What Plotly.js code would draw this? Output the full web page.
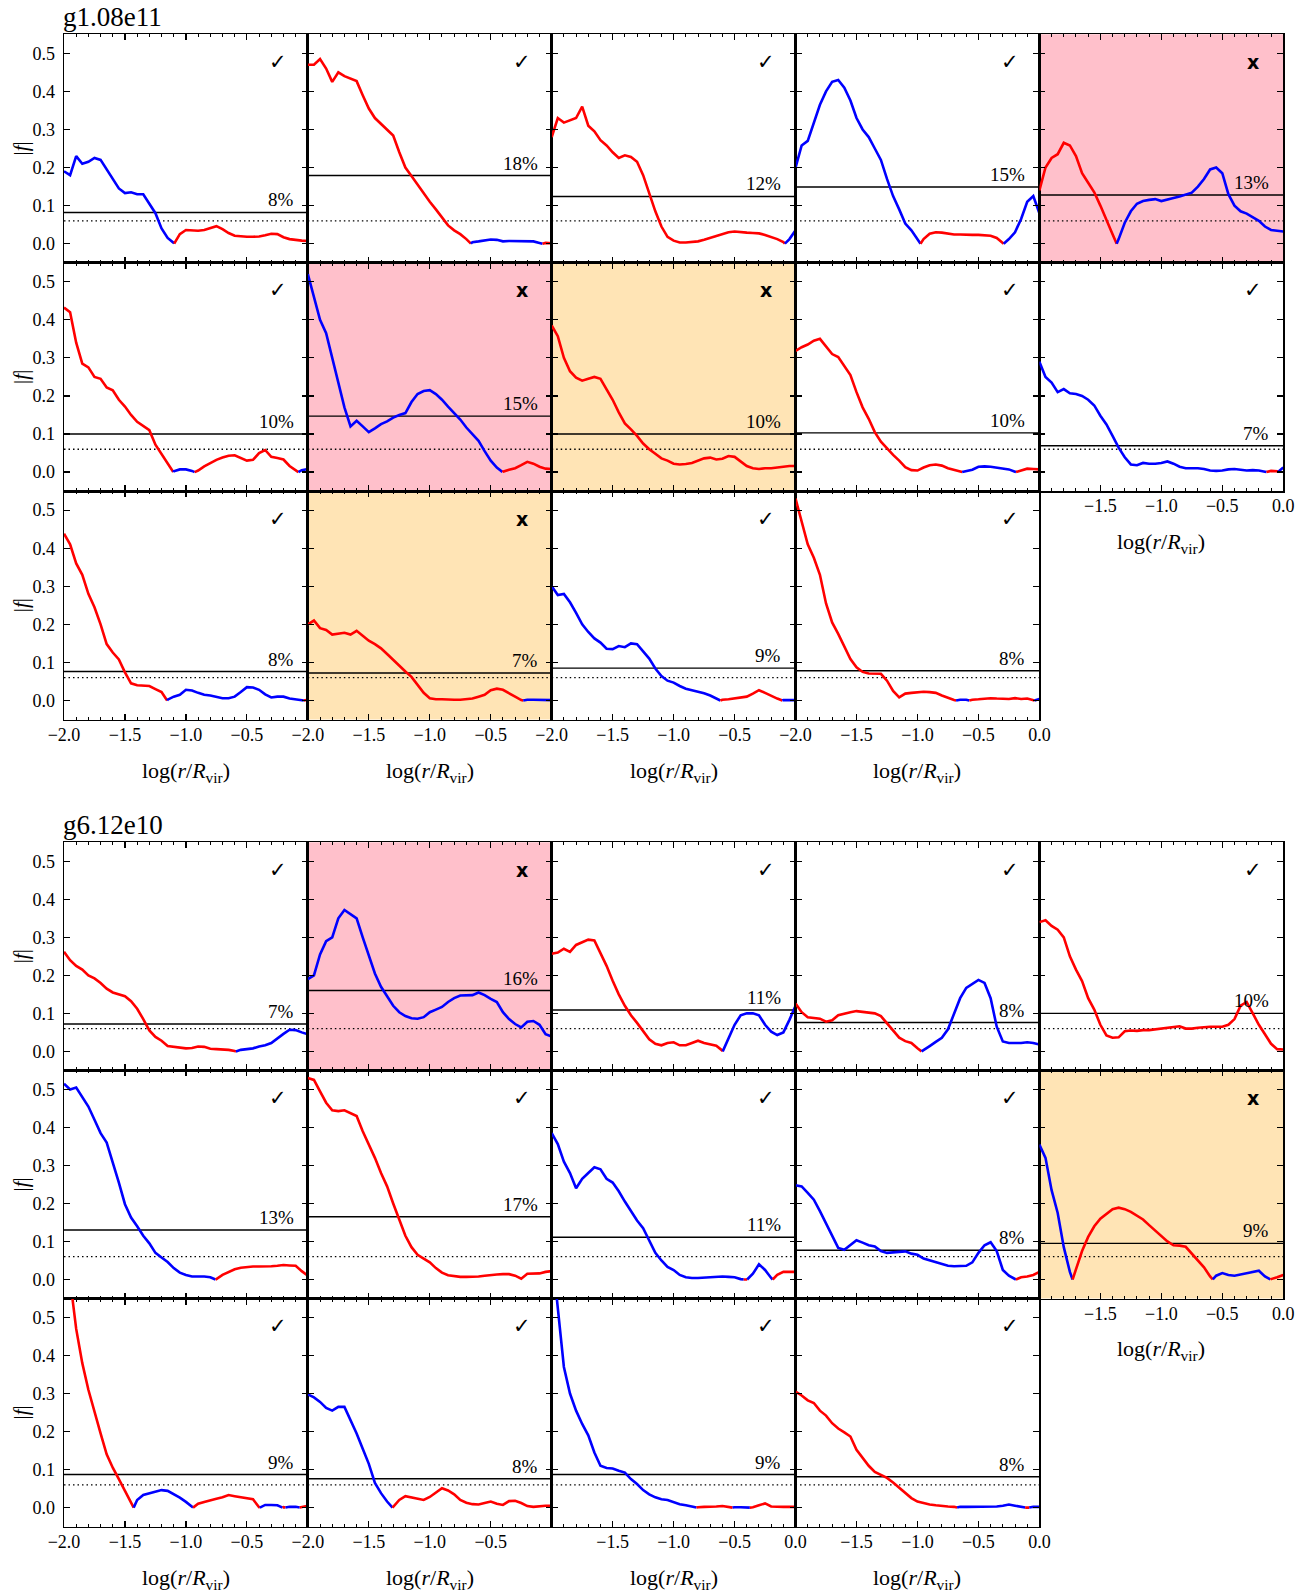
<!DOCTYPE html>
<html><head><meta charset="utf-8">
<script src="https://cdn.plot.ly/plotly-3.0.1.min.js"></script>
<style>html,body{margin:0;padding:0;background:#fff;} #chart{width:1315px;height:1593px;}</style>
</head><body><div id="chart"></div>
<script>
// ---------------- DATA ----------------
const logR = [-2.00,-1.95,-1.90,-1.85,-1.80,-1.75,-1.70,-1.65,-1.60,-1.55,
              -1.50,-1.45,-1.40,-1.35,-1.30,-1.25,-1.20,-1.15,-1.10,-1.05,
              -1.00,-0.95,-0.90,-0.85,-0.80,-0.75,-0.70,-0.65,-0.60,-0.55,
              -0.50,-0.45,-0.40,-0.35,-0.30,-0.25,-0.20,-0.15,-0.10,-0.05,
               0.00];
const xTickVals = [-2.0,-1.5,-1.0,-0.5,0.0];
const xTickText = ['−2.0','−1.5','−1.0','−0.5','0.0'];
const yTickVals = [0.0,0.1,0.2,0.3,0.4,0.5];
const yTickText = ['0.0','0.1','0.2','0.3','0.4','0.5'];
const groupNames = ['g1.08e11','g6.12e10'];
const threshold = 0.06;

// signed f (positive = red, negative = blue), group g1.08e11
const g1_p1 = [-0.19,-0.18,-0.23,-0.21,-0.215,-0.225,-0.22,-0.195,-0.17,-0.145,
  -0.133,-0.135,-0.13,-0.13,-0.105,-0.08,-0.04,-0.015,-0.002,0.025,
  0.036,0.035,0.034,0.036,0.042,0.046,0.038,0.028,0.021,0.019,
  0.018,0.018,0.019,0.022,0.026,0.025,0.017,0.012,0.009,0.008,0.007];
const g1_p2 = [0.47,0.47,0.485,0.46,0.425,0.45,0.44,0.434,0.427,0.39,
  0.355,0.33,0.315,0.30,0.284,0.24,0.20,0.178,0.155,0.13,
  0.11,0.09,0.068,0.048,0.035,0.025,0.012,-0.004,-0.006,-0.008,
  -0.011,-0.01,-0.006,-0.007,-0.007,-0.007,-0.007,-0.006,-0.002,0.002,0.001];
const g1_p3 = [0.28,0.33,0.318,0.325,0.33,0.36,0.31,0.295,0.272,0.258,
  0.24,0.225,0.232,0.228,0.215,0.18,0.13,0.085,0.045,0.018,
  0.008,0.003,0.003,0.004,0.006,0.01,0.015,0.02,0.025,0.03,
  0.032,0.03,0.029,0.028,0.027,0.023,0.018,0.012,0.004,-0.012,-0.035];
const g1_p4 = [-0.20,-0.258,-0.27,-0.32,-0.365,-0.40,-0.425,-0.43,-0.41,-0.376,
  -0.33,-0.30,-0.28,-0.25,-0.22,-0.17,-0.125,-0.09,-0.053,-0.035,
  -0.012,0.012,0.026,0.03,0.029,0.026,0.024,0.024,0.023,0.023,
  0.023,0.022,0.021,0.015,0.002,-0.012,-0.03,-0.065,-0.11,-0.125,-0.08];
const g1_p5 = [0.14,0.20,0.225,0.235,0.265,0.258,0.23,0.185,0.16,0.135,
  0.10,0.06,0.025,-0.012,-0.055,-0.085,-0.105,-0.112,-0.115,-0.117,
  -0.112,-0.115,-0.12,-0.124,-0.128,-0.134,-0.15,-0.17,-0.195,-0.2,
  -0.185,-0.13,-0.10,-0.085,-0.079,-0.07,-0.06,-0.045,-0.036,-0.034,-0.032];
const g1_p6 = [0.432,0.42,0.34,0.285,0.275,0.25,0.245,0.222,0.215,0.19,
  0.172,0.15,0.132,0.12,0.11,0.072,0.047,0.025,-0.002,-0.007,
  -0.007,-0.003,0.004,0.015,0.024,0.032,0.038,0.043,0.044,0.036,
  0.03,0.032,0.05,0.058,0.04,0.037,0.033,0.016,0.004,-0.005,-0.008];
const g1_p7 = [-0.52,-0.46,-0.40,-0.365,-0.30,-0.236,-0.17,-0.12,-0.135,-0.12,
  -0.105,-0.115,-0.126,-0.133,-0.143,-0.15,-0.155,-0.184,-0.205,-0.213,
  -0.215,-0.205,-0.19,-0.172,-0.155,-0.138,-0.117,-0.1,-0.082,-0.055,
  -0.03,-0.012,0.001,0.006,0.01,0.018,0.027,0.022,0.014,0.009,0.008];
const g1_p8 = [0.385,0.357,0.30,0.265,0.248,0.24,0.245,0.25,0.245,0.218,
  0.19,0.157,0.128,0.112,0.095,0.075,0.06,0.048,0.036,0.03,
  0.022,0.02,0.021,0.024,0.03,0.036,0.038,0.033,0.035,0.042,
  0.04,0.028,0.016,0.01,0.008,0.01,0.01,0.012,0.014,0.016,0.016];
const g1_p9 = [0.318,0.328,0.335,0.345,0.35,0.33,0.31,0.302,0.28,0.255,
  0.21,0.17,0.14,0.105,0.08,0.062,0.045,0.03,0.013,0.005,
  0.004,0.012,0.018,0.02,0.017,0.01,0.005,0.001,-0.002,-0.006,
  -0.014,-0.015,-0.014,-0.012,-0.01,-0.007,-0.001,0.005,0.009,0.008,0.007];
const g1_p10 = [-0.29,-0.25,-0.235,-0.21,-0.218,-0.207,-0.205,-0.2,-0.19,-0.175,
  -0.148,-0.125,-0.095,-0.064,-0.039,-0.02,-0.018,-0.024,-0.022,-0.022,
  -0.024,-0.028,-0.022,-0.014,-0.01,-0.01,-0.01,-0.008,-0.004,-0.003,
  -0.004,-0.007,-0.008,-0.006,-0.004,-0.005,-0.004,-0.001,0.003,0.002,-0.012];
const g1_p11 = [0.438,0.41,0.36,0.33,0.28,0.245,0.2,0.148,0.126,0.108,
  0.074,0.045,0.04,0.039,0.038,0.03,0.022,-0.002,-0.01,-0.015,
  -0.028,-0.026,-0.02,-0.015,-0.013,-0.01,-0.006,-0.006,-0.01,-0.022,
  -0.035,-0.034,-0.028,-0.016,-0.008,-0.01,-0.01,-0.005,-0.003,-0.001,0.002];
const g1_p12 = [0.2,0.21,0.19,0.185,0.173,0.175,0.178,0.173,0.183,0.17,
  0.157,0.148,0.137,0.122,0.106,0.09,0.076,0.062,0.04,0.02,
  0.006,0.003,0.003,0.002,0.002,0.002,0.003,0.005,0.01,0.015,
  0.027,0.031,0.028,0.02,0.01,0.001,-0.002,-0.002,-0.002,-0.002,-0.001];
const g1_p13 = [-0.30,-0.277,-0.28,-0.258,-0.23,-0.2,-0.18,-0.163,-0.152,-0.136,
  -0.135,-0.143,-0.14,-0.15,-0.148,-0.13,-0.11,-0.084,-0.064,-0.052,
  -0.047,-0.038,-0.031,-0.027,-0.024,-0.019,-0.013,-0.004,0.002,0.003,
  0.005,0.008,0.01,0.018,0.027,0.02,0.012,0.005,-0.001,-0.001,-0.001];
const g1_p14 = [0.53,0.467,0.41,0.375,0.33,0.255,0.205,0.175,0.14,0.109,
  0.087,0.075,0.071,0.07,0.07,0.052,0.025,0.008,0.018,0.02,
  0.022,0.023,0.022,0.02,0.013,0.006,0.001,-0.002,-0.002,0.002,
  0.003,0.005,0.006,0.005,0.004,0.004,0.006,0.004,0.005,0.001,-0.004];

// group g6.12e10
const g2_p1 = [0.262,0.24,0.225,0.215,0.2,0.192,0.18,0.165,0.155,0.149,
  0.145,0.132,0.112,0.085,0.055,0.038,0.028,0.014,0.012,0.01,
  0.008,0.009,0.013,0.012,0.007,0.006,0.005,0.004,0.001,-0.004,
  -0.006,-0.008,-0.013,-0.016,-0.022,-0.035,-0.046,-0.057,-0.056,-0.05,-0.045];
const g2_p2 = [-0.19,-0.2,-0.255,-0.29,-0.3,-0.35,-0.372,-0.362,-0.35,-0.3,
  -0.255,-0.205,-0.17,-0.145,-0.12,-0.103,-0.093,-0.087,-0.086,-0.09,
  -0.103,-0.11,-0.117,-0.13,-0.14,-0.147,-0.148,-0.148,-0.155,-0.148,
  -0.138,-0.13,-0.103,-0.085,-0.072,-0.063,-0.078,-0.08,-0.07,-0.045,-0.039];
const g2_p3 = [0.257,0.26,0.27,0.262,0.28,0.287,0.294,0.292,0.26,0.225,
  0.186,0.15,0.12,0.095,0.075,0.055,0.032,0.02,0.016,0.022,
  0.024,0.016,0.016,0.022,0.028,0.022,0.018,0.015,0.002,-0.035,
  -0.07,-0.095,-0.1,-0.1,-0.095,-0.07,-0.052,-0.043,-0.05,-0.083,-0.12];
const g2_p4 = [0.126,0.103,0.09,0.088,0.086,0.078,0.082,0.095,0.1,0.103,
  0.106,0.104,0.103,0.1,0.093,0.075,0.055,0.036,0.027,0.022,
  0.008,-0.004,-0.014,-0.025,-0.036,-0.058,-0.1,-0.14,-0.167,-0.178,
  -0.188,-0.18,-0.14,-0.065,-0.026,-0.022,-0.022,-0.022,-0.024,-0.022,-0.018];
const g2_p5 = [0.34,0.345,0.33,0.32,0.3,0.25,0.215,0.185,0.14,0.11,
  0.07,0.042,0.036,0.037,0.053,0.055,0.054,0.056,0.056,0.058,
  0.06,0.062,0.064,0.066,0.06,0.06,0.062,0.064,0.065,0.065,
  0.065,0.07,0.085,0.12,0.13,0.1,0.07,0.045,0.02,0.006,0.005];
const g2_p6 = [-0.515,-0.5,-0.505,-0.48,-0.455,-0.42,-0.385,-0.36,-0.31,-0.255,
  -0.198,-0.163,-0.14,-0.115,-0.095,-0.07,-0.058,-0.046,-0.03,-0.018,
  -0.012,-0.008,-0.008,-0.008,-0.006,0.001,0.012,0.02,0.027,0.031,
  0.033,0.034,0.034,0.034,0.035,0.036,0.038,0.037,0.036,0.022,0.01];
const g2_p7 = [0.53,0.525,0.495,0.465,0.445,0.443,0.445,0.437,0.43,0.39,
  0.355,0.32,0.28,0.245,0.2,0.16,0.115,0.085,0.065,0.055,
  0.045,0.03,0.018,0.011,0.008,0.007,0.007,0.007,0.008,0.01,
  0.012,0.013,0.014,0.014,0.01,0.002,0.015,0.015,0.016,0.02,0.022];
const g2_p8 = [-0.385,-0.356,-0.31,-0.28,-0.24,-0.265,-0.28,-0.295,-0.29,-0.265,
  -0.255,-0.232,-0.205,-0.18,-0.155,-0.135,-0.102,-0.07,-0.05,-0.033,
  -0.025,-0.012,-0.006,-0.004,-0.004,-0.005,-0.007,-0.008,-0.008,-0.007,
  -0.006,-0.001,0.001,-0.015,-0.04,-0.025,-0.004,0.012,0.02,0.02,0.02];
const g2_p9 = [-0.248,-0.245,-0.228,-0.21,-0.18,-0.148,-0.115,-0.083,-0.078,-0.09,
  -0.103,-0.097,-0.09,-0.087,-0.075,-0.07,-0.071,-0.073,-0.074,-0.068,
  -0.065,-0.055,-0.05,-0.045,-0.04,-0.036,-0.035,-0.035,-0.036,-0.045,
  -0.07,-0.09,-0.098,-0.075,-0.025,-0.01,-0.001,0.006,0.008,0.012,0.02];
const g2_p10 = [-0.355,-0.32,-0.235,-0.175,-0.085,-0.02,0.025,0.075,0.112,0.14,
  0.16,0.173,0.185,0.189,0.185,0.178,0.168,0.158,0.143,0.128,
  0.115,0.1,0.09,0.089,0.086,0.068,0.048,0.032,0.008,-0.01,
  -0.017,-0.012,-0.01,-0.013,-0.015,-0.018,-0.023,-0.008,0.001,0.006,0.012];
const g2_p11 = [0.70,0.60,0.47,0.38,0.31,0.25,0.195,0.14,0.105,0.075,
  0.045,0.015,-0.02,-0.033,-0.038,-0.042,-0.046,-0.044,-0.036,-0.026,
  -0.015,-0.002,0.01,0.015,0.02,0.023,0.027,0.033,0.03,0.027,
  0.026,0.022,0.001,-0.007,-0.007,-0.006,0.001,-0.002,-0.002,0.001,0.005];
const g2_p12 = [-0.298,-0.29,-0.278,-0.262,-0.255,-0.265,-0.265,-0.23,-0.195,-0.155,
  -0.115,-0.065,-0.038,-0.016,0.002,0.02,0.03,0.027,0.022,0.02,
  0.028,0.04,0.051,0.045,0.035,0.02,0.013,0.009,0.008,0.012,
  0.016,0.01,0.007,0.017,0.018,0.012,0.004,0.002,0.004,0.005,0.005];
const g2_p13 = [-0.68,-0.52,-0.37,-0.3,-0.255,-0.22,-0.19,-0.145,-0.11,-0.104,
  -0.103,-0.097,-0.092,-0.075,-0.062,-0.046,-0.035,-0.027,-0.022,-0.02,
  -0.014,-0.009,-0.006,-0.003,0.001,0.002,0.002,0.003,0.004,0.002,
  -0.001,-0.001,-0.001,0.001,0.006,0.011,0.003,0.002,0.002,0.002,0.002];
const g2_p14 = [0.305,0.295,0.282,0.275,0.255,0.242,0.222,0.208,0.198,0.187,
  0.152,0.13,0.11,0.094,0.086,0.078,0.066,0.052,0.038,0.025,
  0.016,0.011,0.008,0.006,0.004,0.003,0.002,-0.002,-0.002,-0.002,
  -0.002,-0.003,-0.003,-0.003,-0.005,-0.008,-0.005,-0.002,0.001,-0.002,-0.002];

const g1_levels = [0.082,0.179,0.124,0.149,0.128,0.100,0.147,0.100,0.103,0.069,0.076,0.072,0.085,0.078];
const g1_pct    = [8,18,12,15,13,10,15,10,10,7,8,7,9,8];
const g1_ok     = [1,1,1,1,0, 1,0,0,1,1, 1,0,1,1];
const g1_shade  = ['','','','','pink', '','pink','orange','','', '','orange','',''];
const g2_levels = [0.072,0.160,0.109,0.076,0.100,0.130,0.165,0.111,0.077,0.095,0.087,0.076,0.087,0.081];
const g2_pct    = [7,16,11,8,10,13,17,11,8,9,9,8,9,8];
const g2_ok     = [1,0,1,1,1, 1,1,1,1,0, 1,1,1,1];
const g2_shade  = ['','pink','','','', '','','','','orange', '','','',''];

// which x tick labels each labelled panel shows (indices into xTickVals)
const xlab_left  = [0,1,2,3];
const xlab_full  = [0,1,2,3,4];
const xlab_right = [1,2,3,4];
const g1_xlabels = {9:xlab_right,10:xlab_left,11:xlab_left,12:xlab_left,13:xlab_full};
const g2_xlabels = {9:xlab_right,10:xlab_left,11:xlab_left,12:xlab_right,13:xlab_right};

// ---------------- BUILD ----------------
const SERIF = 'Liberation Serif';
const W = 1315, H = 1593;
const colX0 = 64, colW = 243.85;
const groupTop = [34.3, 842.3];
const rowH = [228.4, 228.1];
const shadeColors = {pink:'#FFC0CB', orange:'#FFE4B5'};

const groups = [
  {name:groupNames[0], panels:[g1_p1,g1_p2,g1_p3,g1_p4,g1_p5,g1_p6,g1_p7,g1_p8,g1_p9,g1_p10,g1_p11,g1_p12,g1_p13,g1_p14],
   levels:g1_levels, pct:g1_pct, ok:g1_ok, shade:g1_shade, xl:g1_xlabels},
  {name:groupNames[1], panels:[g2_p1,g2_p2,g2_p3,g2_p4,g2_p5,g2_p6,g2_p7,g2_p8,g2_p9,g2_p10,g2_p11,g2_p12,g2_p13,g2_p14],
   levels:g2_levels, pct:g2_pct, ok:g2_ok, shade:g2_shade, xl:g2_xlabels}
];

function segments(xs, fs){
  const pts = [];
  for (let i=0;i<xs.length;i++){
    if (i>0 && fs[i-1]*fs[i] < 0){
      const t = fs[i-1]/(fs[i-1]-fs[i]);
      pts.push({x: xs[i-1] + t*(xs[i]-xs[i-1]), f: 0});
    }
    pts.push({x: xs[i], f: fs[i]});
  }
  const segs = [];
  let cur = {sign:null, x:[], y:[]};
  for (const p of pts){
    if (p.f === 0){
      cur.x.push(p.x); cur.y.push(0);
      if (cur.x.length>1) segs.push(cur);
      cur = {sign:null, x:[p.x], y:[0]};
      continue;
    }
    if (cur.sign === null) cur.sign = p.f>0 ? 1 : -1;
    cur.x.push(p.x); cur.y.push(Math.abs(p.f));
  }
  if (cur.x.length>1) segs.push(cur);
  return segs;
}

const traces = [], shapes = [], annotations = [];
const layout = {
  width:W, height:H, margin:{l:0,r:0,t:0,b:0},
  paper_bgcolor:'white', plot_bgcolor:'rgba(0,0,0,0)',
  showlegend:false, shapes:shapes, annotations:annotations,
  font:{family:SERIF, color:'black'}
};

let k = 0;
groups.forEach((g, gi) => {
  annotations.push({xref:'paper', yref:'paper', x:(colX0-3)/W, y:1-(groupTop[gi]-17.5)/H,
    xanchor:'left', yanchor:'middle', text:g.name, showarrow:false,
    font:{family:SERIF, size:27, color:'black'}});
  g.panels.forEach((f, pi) => {
    k++;
    const row = Math.floor(pi/5), col = pi%5;
    const left = colX0 + col*colW, right = left + colW;
    const top = groupTop[gi] + row*rowH[gi], bottom = top + rowH[gi];
    const sx = k===1 ? '' : String(k);
    const xa = 'x'+sx, ya = 'y'+sx;
    const labIdx = g.xl[pi];
    const hasXLabels = !!labIdx;

    layout['xaxis'+sx] = {
      domain:[left/W, right/W], anchor:ya, range:[-2,0],
      showline:true, linecolor:'black', linewidth:1.5, mirror:'allticks',
      ticks:'inside', ticklen:6, tickwidth:1.2, tickcolor:'black',
      tickmode:'array',
      tickvals: hasXLabels ? labIdx.map(i=>xTickVals[i]) : xTickVals,
      ticktext: hasXLabels ? labIdx.map(i=>xTickText[i]) : xTickText,
      showticklabels:hasXLabels,
      ticklabelstandoff:-2,
      tickfont:{family:SERIF, size:18, color:'black'},
      minor:{ticks:'inside', ticklen:3, tickwidth:1, tickcolor:'black', tickmode:'linear', tick0:-2, dtick:0.1, showgrid:false},
      showgrid:false, zeroline:false, fixedrange:true
    };
    layout['yaxis'+sx] = {
      domain:[1-bottom/H, 1-top/H], anchor:xa, range:[-0.05,0.55],
      showline:true, linecolor:'black', linewidth:1.5, mirror:'allticks',
      ticks:'inside', ticklen:6, tickwidth:1.2, tickcolor:'black',
      tickmode:'array', tickvals:yTickVals, ticktext:yTickText, showticklabels:(col===0),
      ticklabelstandoff:4,
      tickfont:{family:SERIF, size:18, color:'black'},
      showgrid:false, zeroline:false, fixedrange:true
    };

    if (g.shade[pi]){
      shapes.push({type:'rect', xref:'paper', yref:'paper', x0:left/W, x1:right/W, y0:1-bottom/H, y1:1-top/H,
        fillcolor:shadeColors[g.shade[pi]], line:{width:0}, layer:'below'});
    }

    traces.push({type:'scatter', mode:'lines', x:[-2,0], y:[threshold,threshold], xaxis:xa, yaxis:ya,
      line:{color:'black', width:1.3, dash:'1.5px,3px'}, hoverinfo:'skip'});
    traces.push({type:'scatter', mode:'lines', x:[-2,0], y:[g.levels[pi],g.levels[pi]], xaxis:xa, yaxis:ya,
      line:{color:'black', width:1.4}, hoverinfo:'skip'});

    segments(logR, f).forEach(s => {
      traces.push({type:'scatter', mode:'lines', x:s.x, y:s.y, xaxis:xa, yaxis:ya,
        line:{color: s.sign>0 ? '#ff0000' : '#0000ff', width:2.6}, hoverinfo:'skip'});
    });

    annotations.push({xref:xa, yref:ya, x:-0.1, y:g.levels[pi], xanchor:'right', yanchor:'bottom',
      text:g.pct[pi]+'%', showarrow:false, font:{family:SERIF, size:19, color:'black'}});
    annotations.push({xref:xa, yref:ya, x:-0.245, y:0.478, xanchor:'center', yanchor:'middle',
      text: g.ok[pi] ? '✓' : '<b>x</b>', showarrow:false,
      font:{family:'DejaVu Sans', size: g.ok[pi] ? 21 : 19, color:'black'}});

    if (col===0){
      annotations.push({xref:'paper', yref:'paper', x:21/W, y:1-(top+bottom)/2/H, xanchor:'center', yanchor:'middle',
        text:'|<i>f</i>|', textangle:-90, showarrow:false, font:{family:SERIF, size:21, color:'black'}});
    }
    if (hasXLabels){
      annotations.push({xref:'paper', yref:'paper', x:(left+right)/2/W, y:1-(bottom+52)/H, xanchor:'center', yanchor:'middle',
        text:'log(<i>r</i>/<i>R</i><sub>vir</sub>)', showarrow:false, font:{family:SERIF, size:22, color:'black'}});
    }
  });
});

Plotly.newPlot('chart', traces, layout, {staticPlot:true, displayModeBar:false});
</script>
</body></html>
